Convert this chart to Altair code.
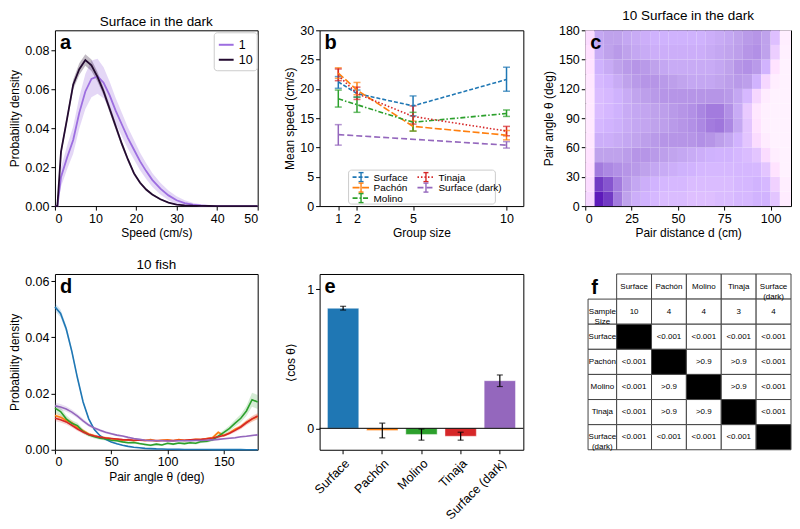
import altair as alt
import pandas as pd

FONT = "Liberation Sans"
POPS = ["Surface", "Pachón", "Molino", "Tinaja", "Surface (dark)"]
TAB = ["#1f77b4", "#ff7f0e", "#2ca02c", "#d62728", "#9467bd"]

# ---------------- panel a : speed distributions (Surface in the dark)
a_speed = [0.0, 0.6, 1.5, 3.0, 4.5, 6.0, 7.5, 9.0, 10.5, 12.0, 13.5, 15.0, 16.5, 18.0,
           19.5, 21.0, 22.5, 24.0, 26.0, 28.0, 30.0, 32.0, 34.0, 36.0, 38.0, 40.0, 45.0, 50.0]
a_pdf_10 = [0, 0, 0.028, 0.045, 0.0625, 0.0705, 0.0752, 0.0725, 0.0665, 0.059, 0.050, 0.041,
            0.032, 0.024, 0.0168, 0.012, 0.0085, 0.006, 0.0035, 0.0018, 0.0008, 0.0004,
            0.0002, 0.0001, 0.00005, 0, 0, 0]
a_err_10 = [0, 0, 0.002, 0.002, 0.0025, 0.003, 0.003, 0.003, 0.0025, 0.002, 0.002, 0.0018,
            0.0015, 0.0012, 0.001, 0.0008, 0.0007, 0.0005, 0.0004, 0.0003, 0.0002, 0.0001,
            0.0001, 0, 0, 0, 0, 0]
a_pdf_1 = [0, 0, 0.015, 0.025, 0.034, 0.048, 0.059, 0.0655, 0.0668, 0.0635, 0.057, 0.049,
           0.042, 0.035, 0.029, 0.023, 0.018, 0.0135, 0.009, 0.0055, 0.003, 0.0015, 0.0007,
           0.0003, 0.0001, 0, 0, 0]
a_err_1 = [0, 0, 0.005, 0.006, 0.007, 0.008, 0.009, 0.0095, 0.009, 0.008, 0.007, 0.0065,
           0.006, 0.0055, 0.005, 0.0045, 0.004, 0.0035, 0.003, 0.0025, 0.002, 0.0015, 0.001,
           0.0006, 0.0003, 0, 0, 0]
a_groups = ["1", "10"]
a_colors = ["#9d6ee0", "#230a30"]

# ---------------- panel b : mean speed vs group size
b_group_size = [1, 2, 5, 10]
b_mean = {"Surface": [21.2, 19.2, 17.1, 21.6], "Pachón": [22.7, 19.8, 13.6, 12.1],
          "Molino": [18.3, 17.3, 14.3, 15.8], "Tinaja": [22.3, 19.2, 15.3, 12.8],
          "Surface (dark)": [12.2, None, None, 10.4]}
b_lo = {"Surface": [20.1, 18.6, 15.4, 19.6], "Pachón": [21.8, 19.0, 12.8, 11.3],
        "Molino": [16.9, 16.0, 12.8, 15.3], "Tinaja": [21.4, 18.2, 14.0, 12.0],
        "Surface (dark)": [10.4, None, None, 9.9]}
b_hi = {"Surface": [22.1, 19.8, 18.8, 23.7], "Pachón": [23.6, 21.1, 14.5, 12.9],
        "Molino": [19.8, 18.6, 16.0, 16.4], "Tinaja": [23.4, 20.3, 17.1, 13.6],
        "Surface (dark)": [13.9, None, None, 11.0]}

# ---------------- panel c : pair distance / pair angle density (relative)
c_dist_edges = [0, 5, 10, 15, 20, 25, 30, 35, 40, 45, 50, 55, 60, 65, 70, 75, 80, 85, 90,
                95, 100, 105, 111]
c_angle_edges = [0, 15, 30, 45, 60, 75, 90, 105, 120, 135, 150, 165, 180]
c_density = [
    [0.15, 0.95, 0.85, 0.6, 0.45, 0.38, 0.35, 0.32, 0.3, 0.3, 0.3, 0.28, 0.28, 0.28, 0.3, 0.3, 0.32, 0.32, 0.35, 0.35, 0.25, 0.03],
    [0.12, 0.85, 0.75, 0.6, 0.48, 0.42, 0.38, 0.35, 0.33, 0.32, 0.32, 0.3, 0.3, 0.3, 0.3, 0.3, 0.32, 0.33, 0.35, 0.32, 0.18, 0.02],
    [0.1, 0.6, 0.55, 0.52, 0.5, 0.48, 0.45, 0.42, 0.4, 0.38, 0.36, 0.35, 0.33, 0.32, 0.32, 0.32, 0.33, 0.33, 0.32, 0.25, 0.08, 0.0],
    [0.08, 0.45, 0.45, 0.45, 0.47, 0.5, 0.5, 0.48, 0.46, 0.44, 0.42, 0.4, 0.38, 0.36, 0.35, 0.35, 0.33, 0.3, 0.25, 0.12, 0.02, 0.0],
    [0.06, 0.38, 0.38, 0.4, 0.42, 0.44, 0.46, 0.48, 0.5, 0.5, 0.5, 0.5, 0.52, 0.5, 0.46, 0.42, 0.35, 0.25, 0.12, 0.03, 0.0, 0.0],
    [0.05, 0.33, 0.35, 0.37, 0.4, 0.42, 0.43, 0.45, 0.46, 0.48, 0.5, 0.52, 0.55, 0.6, 0.62, 0.55, 0.42, 0.25, 0.08, 0.01, 0.0, 0.0],
    [0.05, 0.3, 0.33, 0.36, 0.4, 0.42, 0.43, 0.45, 0.46, 0.48, 0.5, 0.52, 0.56, 0.6, 0.6, 0.52, 0.4, 0.22, 0.06, 0.01, 0.0, 0.0],
    [0.05, 0.3, 0.32, 0.36, 0.4, 0.44, 0.46, 0.48, 0.5, 0.5, 0.5, 0.5, 0.5, 0.5, 0.5, 0.48, 0.42, 0.32, 0.15, 0.03, 0.0, 0.0],
    [0.06, 0.32, 0.35, 0.4, 0.45, 0.48, 0.5, 0.5, 0.48, 0.46, 0.44, 0.42, 0.42, 0.42, 0.44, 0.46, 0.48, 0.46, 0.35, 0.15, 0.02, 0.0],
    [0.08, 0.36, 0.4, 0.45, 0.48, 0.5, 0.48, 0.45, 0.42, 0.4, 0.4, 0.4, 0.4, 0.4, 0.42, 0.45, 0.5, 0.52, 0.48, 0.35, 0.08, 0.0],
    [0.1, 0.4, 0.45, 0.48, 0.45, 0.42, 0.4, 0.38, 0.38, 0.38, 0.38, 0.38, 0.38, 0.4, 0.42, 0.44, 0.46, 0.5, 0.52, 0.45, 0.2, 0.01],
    [0.12, 0.42, 0.45, 0.45, 0.42, 0.4, 0.38, 0.36, 0.36, 0.36, 0.36, 0.36, 0.36, 0.38, 0.4, 0.42, 0.45, 0.48, 0.5, 0.45, 0.28, 0.02],
]

# ---------------- panel d : pair angle distributions, 10 fish (values x 1e-3)
d_angle = [0, 5, 10, 15, 20, 25, 30, 35, 40, 45, 50, 55, 60, 65, 70, 75, 80, 85, 90, 95, 100,
           105, 110, 115, 120, 125, 130, 135, 140, 145, 150, 155, 160, 165, 170, 175, 180]
d_pdf = {
    "Surface": [50.8, 48.5, 43.0, 35.0, 25.5, 17.0, 11.0, 7.2, 5.0, 3.7, 2.8, 2.1, 1.6, 1.2, 0.9, 0.7, 0.5, 0.4, 0.3, 0.25, 0.2, 0.17, 0.14, 0.12, 0.1, 0.09, 0.08, 0.07, 0.06, 0.05, 0.05, 0.04, 0.04, 0.04, 0.03, 0.03, 0.03],
    "Pachón": [12.2, 11.6, 10.4, 9.6, 7.9, 6.8, 5.6, 5.0, 4.4, 4.3, 3.9, 3.7, 3.4, 3.6, 3.2, 3.5, 3.3, 3.6, 3.1, 3.4, 3.5, 3.2, 3.6, 3.3, 3.5, 3.7, 3.6, 4.0, 4.3, 6.2, 5.0, 6.0, 7.3, 8.2, 9.8, 10.9, 11.8],
    "Molino": [14.8, 13.6, 11.0, 9.4, 8.6, 6.5, 5.3, 4.6, 4.1, 3.8, 3.4, 3.2, 2.8, 2.5, 2.6, 2.2, 1.9, 1.6, 2.0, 1.7, 2.3, 2.0, 2.4, 2.2, 2.5, 2.3, 2.9, 3.0, 3.6, 4.8, 6.2, 7.6, 9.5, 11.2, 13.8, 17.8, 17.0],
    "Tinaja": [11.2, 10.7, 9.9, 8.7, 7.4, 6.3, 5.4, 4.9, 4.5, 4.2, 4.0, 3.8, 3.6, 3.5, 3.4, 3.4, 3.3, 3.3, 3.3, 3.3, 3.3, 3.3, 3.4, 3.4, 3.5, 3.6, 3.7, 3.9, 4.2, 4.6, 5.1, 5.9, 6.9, 8.1, 9.6, 11.0, 12.0],
    "Surface (dark)": [15.6, 15.2, 14.5, 13.4, 12.0, 10.3, 8.8, 7.7, 6.9, 6.2, 5.7, 5.2, 4.9, 4.4, 4.0, 3.7, 3.4, 3.3, 3.2, 3.2, 3.1, 3.1, 3.2, 3.2, 3.2, 3.3, 3.3, 3.4, 3.5, 3.7, 3.9, 4.1, 4.3, 4.6, 4.8, 5.1, 5.3],
}
d_sem = {
    "Surface": [1.5, 1.4, 1.2, 1.0, 0.8, 0.6, 0.5, 0.4, 0.3, 0.3, 0.2, 0.2, 0.2, 0.1, 0.1, 0.1, 0.1, 0.1, 0.1, 0.1, 0.1, 0.1, 0.1, 0.1, 0.1, 0.1, 0.1, 0.1, 0.1, 0.1, 0.1, 0.1, 0.1, 0.1, 0.1, 0.1, 0.1],
    "Pachón": [0.9, 0.9, 0.8, 0.8, 0.7, 0.6, 0.5, 0.5, 0.4, 0.4, 0.4, 0.4, 0.3, 0.3, 0.3, 0.3, 0.3, 0.3, 0.3, 0.3, 0.3, 0.3, 0.3, 0.3, 0.3, 0.3, 0.3, 0.4, 0.4, 0.5, 0.5, 0.6, 0.6, 0.7, 0.8, 0.9, 1.0],
    "Molino": [1.6, 1.5, 1.3, 1.1, 1.0, 0.8, 0.7, 0.6, 0.5, 0.5, 0.4, 0.4, 0.4, 0.4, 0.4, 0.4, 0.4, 0.4, 0.4, 0.4, 0.4, 0.4, 0.4, 0.4, 0.4, 0.4, 0.5, 0.5, 0.6, 0.7, 0.8, 1.0, 1.2, 1.4, 1.8, 2.5, 2.5],
    "Tinaja": [1.0, 1.0, 0.9, 0.8, 0.7, 0.6, 0.5, 0.4, 0.4, 0.3, 0.3, 0.3, 0.3, 0.3, 0.3, 0.3, 0.3, 0.3, 0.3, 0.3, 0.3, 0.3, 0.3, 0.3, 0.3, 0.3, 0.3, 0.4, 0.4, 0.5, 0.5, 0.6, 0.7, 0.8, 0.9, 1.0, 1.1],
    "Surface (dark)": [1.2, 1.1, 1.0, 0.9, 0.8, 0.7, 0.6, 0.5, 0.5, 0.4, 0.4, 0.3, 0.3, 0.3, 0.3, 0.3, 0.3, 0.3, 0.3, 0.3, 0.3, 0.3, 0.3, 0.3, 0.3, 0.3, 0.3, 0.3, 0.3, 0.3, 0.3, 0.3, 0.3, 0.3, 0.3, 0.3, 0.4],
}

# ---------------- panel e : <cos theta>
e_mean = [0.862, -0.016, -0.044, -0.057, 0.342]
e_lo = [0.849, -0.069, -0.085, -0.085, 0.300]
e_hi = [0.876, 0.037, -0.005, -0.028, 0.383]

# ---------------- panel f : table of p-values
f_cols = ["Surface", "Pachón", "Molino", "Tinaja", "Surface\n(dark)"]
f_rows = ["Sample\nSize", "Surface", "Pachón", "Molino", "Tinaja", "Surface\n(dark)"]
f_sample_size = ["10", "4", "4", "3", "4"]
f_p = [
    ["", "<0.001", "<0.001", "<0.001", "<0.001"],
    ["<0.001", "", ">0.9", ">0.9", "<0.001"],
    ["<0.001", ">0.9", "", ">0.9", "<0.001"],
    ["<0.001", ">0.9", ">0.9", "", "<0.001"],
    ["<0.001", "<0.001", "<0.001", "<0.001", ""],
]

# ====================================================================
W1, W2, W3 = 203, 204, 206
H = 176
LBL = 12.5
GAP = 62
ONE = alt.Data(values=[{"k": 0}])


def letter(ch, dx=5, dy=3):
    return alt.Chart(alt.Data(values=[{"t": ch}])).mark_text(
        align="left", baseline="top", fontSize=20, fontWeight="bold", font=FONT, color="black"
    ).encode(x=alt.value(dx), y=alt.value(dy), text="t:N")


def seg(x1, y1, x2, y2, color, width=1.5, dash=None):
    kw = dict(color=color, strokeWidth=width)
    if dash is not None:
        kw["strokeDash"] = dash
    return alt.Chart(ONE).mark_rule(**kw).encode(
        x=alt.value(x1), x2=alt.value(x2), y=alt.value(y1), y2=alt.value(y2))


# ---- a
rows = []
for g, ys, es in [("1", a_pdf_1, a_err_1), ("10", a_pdf_10, a_err_10)]:
    for x, y, e in zip(a_speed, ys, es):
        rows.append({"speed": x, "pdf": y, "lo": max(0.0, y - e), "hi": y + e, "group": g})
dfa = pd.DataFrame(rows)
xa = alt.X("speed:Q", scale=alt.Scale(domain=[0, 50], nice=False),
           axis=alt.Axis(values=[0, 10, 20, 30, 40, 50], title="Speed (cm/s)"))
ya_scale = alt.Scale(domain=[0, 0.0905], nice=False)
ya_axis = alt.Axis(values=[0, 0.02, 0.04, 0.06, 0.08], format=".2f", title="Probability density")
ca = alt.Scale(domain=a_groups, range=a_colors)
leg_a = alt.Legend(title=None, orient="none", legendX=W1 - 44, legendY=2, symbolType="stroke",
                   symbolSize=220, symbolStrokeWidth=2, symbolOpacity=1, labelFontSize=12.5,
                   labelFont=FONT, strokeColor="#cccccc", fillColor="white", padding=4,
                   cornerRadius=3, rowPadding=0)
band_a = alt.Chart(dfa).mark_area(opacity=0.28).encode(
    x=xa, y=alt.Y("lo:Q", scale=ya_scale, axis=ya_axis), y2="hi:Q",
    color=alt.Color("group:N", scale=ca, legend=leg_a))
line_a = alt.Chart(dfa).mark_line(strokeWidth=1.8).encode(
    x=xa, y=alt.Y("pdf:Q", scale=ya_scale, axis=ya_axis),
    color=alt.Color("group:N", scale=ca, legend=leg_a))
panel_a = alt.layer(band_a, line_a, letter("a")).properties(
    width=W1, height=H, title="Surface in the dark")

# ---- b
rows = []
for s in POPS:
    for g, m, lo, hi in zip(b_group_size, b_mean[s], b_lo[s], b_hi[s]):
        if m is None:
            continue
        rows.append({"size": g, "mean": m, "lo": lo, "hi": hi, "pop": s})
dfb = pd.DataFrame(rows)
b_dash = [[4, 2], [7, 2.5], [5, 2, 1.5, 2], [1.5, 2], [6, 3]]
cb = alt.Scale(domain=POPS, range=TAB)
xb = alt.X("size:Q", scale=alt.Scale(domain=[0, 10.9], nice=False),
           axis=alt.Axis(values=[1, 2, 5, 10], title="Group size"))
yb_scale = alt.Scale(domain=[0, 30], nice=False)
yb_axis = alt.Axis(values=[0, 5, 10, 15, 20, 25, 30], title="Mean speed (cm/s)")
color_b = alt.Color("pop:N", scale=cb, legend=None)
line_b = alt.Chart(dfb).mark_line(strokeWidth=1.6).encode(
    x=xb, y=alt.Y("mean:Q", scale=yb_scale, axis=yb_axis), color=color_b,
    strokeDash=alt.StrokeDash("pop:N", scale=alt.Scale(domain=POPS, range=b_dash), legend=None))
rule_b = alt.Chart(dfb).mark_rule(strokeWidth=1.5).encode(
    x=xb, y=alt.Y("lo:Q", scale=yb_scale, axis=yb_axis), y2="hi:Q", color=color_b)
cap_lo = alt.Chart(dfb).mark_tick(orient="horizontal", size=7, thickness=1.5).encode(
    x=xb, y=alt.Y("lo:Q", scale=yb_scale, axis=yb_axis), color=color_b)
cap_hi = alt.Chart(dfb).mark_tick(orient="horizontal", size=7, thickness=1.5).encode(
    x=xb, y=alt.Y("hi:Q", scale=yb_scale, axis=yb_axis), color=color_b)

# legend of panel b (drawn as marks, two columns like the reference)
LX0, LY1 = 29, H - 2
LX1, LY0 = 176, H - 36
leg_layers = [alt.Chart(ONE).mark_rect(fill="white", fillOpacity=0.85, stroke="#cccccc",
                                       strokeWidth=1, cornerRadius=3).encode(
    x=alt.value(LX0), x2=alt.value(LX1), y=alt.value(LY0), y2=alt.value(LY1))]
for i, s in enumerate(POPS):
    col, row = divmod(i, 3)
    sx = LX0 + 4 + col * 65
    sy = LY0 + 7 + row * 10.5
    colr = TAB[i]
    leg_layers.append(seg(sx, sy, sx + 17, sy, colr, 1.6, b_dash[i]))
    leg_layers.append(seg(sx + 8.5, sy - 4.5, sx + 8.5, sy + 4.5, colr, 1.4))
    leg_layers.append(seg(sx + 6, sy - 4.5, sx + 11, sy - 4.5, colr, 1.4))
    leg_layers.append(seg(sx + 6, sy + 4.5, sx + 11, sy + 4.5, colr, 1.4))
    leg_layers.append(alt.Chart(alt.Data(values=[{"t": s}])).mark_text(
        align="left", baseline="middle", fontSize=10, font=FONT, color="black").encode(
        x=alt.value(sx + 21), y=alt.value(sy + 0.5), text="t:N"))
panel_b = alt.layer(rule_b, cap_lo, cap_hi, line_b, *leg_layers, letter("b")).properties(
    width=W2, height=H)

# ---- c
rows = []
for i, row in enumerate(c_density):
    for j, v in enumerate(row):
        rows.append({"d0": c_dist_edges[j], "d1": c_dist_edges[j + 1],
                     "t0": c_angle_edges[i], "t1": c_angle_edges[i + 1], "v": v})
dfc = pd.DataFrame(rows)
heat = alt.Chart(dfc).mark_rect(strokeWidth=0).encode(
    x=alt.X("d0:Q", scale=alt.Scale(domain=[0, 111], nice=False),
            axis=alt.Axis(values=[0, 25, 50, 75, 100], title="Pair distance d (cm)")),
    x2="d1:Q",
    y=alt.Y("t0:Q", scale=alt.Scale(domain=[0, 180], nice=False),
            axis=alt.Axis(values=[0, 30, 60, 90, 120, 150, 180], title="Pair angle θ (deg)")),
    y2="t1:Q",
    color=alt.Color("v:Q", scale=alt.Scale(domain=[0, 0.45, 1],
                                           range=["#ffffff", "#bfa2ec", "#5200b4"]),
                    legend=None))
panel_c = alt.layer(heat, letter("c")).properties(width=W3, height=H,
                                                  title="10 Surface in the dark")

# ---- d
rows = []
for s in POPS:
    for t, y, e in zip(d_angle, d_pdf[s], d_sem[s]):
        rows.append({"theta": t, "pdf": y / 1000.0, "lo": max(0.0, (y - e) / 1000.0),
                     "hi": (y + e) / 1000.0, "pop": s})
dfd = pd.DataFrame(rows)
cd = alt.Scale(domain=POPS, range=TAB)
xd = alt.X("theta:Q", scale=alt.Scale(domain=[0, 180], nice=False),
           axis=alt.Axis(values=[0, 50, 100, 150], title="Pair angle θ (deg)"))
yd_scale = alt.Scale(domain=[0, 0.0625], nice=False)
yd_axis = alt.Axis(values=[0, 0.02, 0.04, 0.06], format=".2f", title="Probability density")
band_d = alt.Chart(dfd).mark_area(opacity=0.2).encode(
    x=xd, y=alt.Y("lo:Q", scale=yd_scale, axis=yd_axis), y2="hi:Q",
    color=alt.Color("pop:N", scale=cd, legend=None), detail="pop:N")
line_d = alt.Chart(dfd).mark_line(strokeWidth=1.6).encode(
    x=xd, y=alt.Y("pdf:Q", scale=yd_scale, axis=yd_axis),
    color=alt.Color("pop:N", scale=cd, legend=None), detail="pop:N")
panel_d = alt.layer(band_d, line_d, letter("d")).properties(width=W1, height=H, title="10 fish")

# ---- e
dfe = pd.DataFrame({"pop": POPS, "val": e_mean, "lo": e_lo, "hi": e_hi})
xe = alt.X("pop:N", sort=POPS, scale=alt.Scale(paddingInner=0.2, paddingOuter=0.2),
           axis=alt.Axis(title=None, labelAngle=315, labelAlign="right",
                         labelBaseline="top", labelPadding=3))
ye_scale = alt.Scale(domain=[-0.154, 1.108], nice=False)
ye_axis = alt.Axis(values=[0, 1], format="d", title="⟨cos θ⟩", titlePadding=9)
bars_e = alt.Chart(dfe).mark_bar(stroke="white", strokeOpacity=0.45, strokeWidth=1).encode(
    x=xe, y=alt.Y("val:Q", scale=ye_scale, axis=ye_axis), y2=alt.datum(0),
    color=alt.Color("pop:N", scale=cd, legend=None))
zero_e = alt.Chart(alt.Data(values=[{"z": 0}])).mark_rule(color="black", strokeWidth=1).encode(
    y=alt.Y("z:Q", scale=ye_scale, axis=ye_axis))
err_e = alt.Chart(dfe).mark_rule(color="black", strokeWidth=1.2).encode(
    x=xe, y=alt.Y("lo:Q", scale=ye_scale, axis=ye_axis), y2="hi:Q")
caplo_e = alt.Chart(dfe).mark_tick(orient="horizontal", size=6, thickness=1.2, color="black").encode(
    x=xe, y=alt.Y("lo:Q", scale=ye_scale, axis=ye_axis))
caphi_e = alt.Chart(dfe).mark_tick(orient="horizontal", size=6, thickness=1.2, color="black").encode(
    x=xe, y=alt.Y("hi:Q", scale=ye_scale, axis=ye_axis))
panel_e = alt.layer(bars_e, zero_e, err_e, caplo_e, caphi_e, letter("e")).properties(
    width=W2, height=H)

# ---- f
col_edges = [0.0, 0.82, 1.82, 2.82, 3.82, 4.82, 5.82]
cells = []
for j, name in enumerate(f_cols):
    cells.append({"c0": col_edges[j + 1], "c1": col_edges[j + 2], "r0": 0, "r1": 1,
                  "text": name, "fill": "white"})
for i, name in enumerate(f_rows):
    cells.append({"c0": col_edges[0], "c1": col_edges[1], "r0": i + 1, "r1": i + 2,
                  "text": name, "fill": "white"})
for j, v in enumerate(f_sample_size):
    cells.append({"c0": col_edges[j + 1], "c1": col_edges[j + 2], "r0": 1, "r1": 2,
                  "text": v, "fill": "white"})
for i, prow in enumerate(f_p):
    for j, v in enumerate(prow):
        cells.append({"c0": col_edges[j + 1], "c1": col_edges[j + 2], "r0": i + 2, "r1": i + 3,
                      "text": v, "fill": "black" if i == j else "white"})
dff = pd.DataFrame(cells)
dff["cm"] = (dff["c0"] + dff["c1"]) / 2
dff["rm"] = (dff["r0"] + dff["r1"]) / 2
fx = alt.Scale(domain=[-0.08, 5.82], nice=False)
fy = alt.Scale(domain=[0, 7], nice=False, reverse=True)
rect_f = alt.Chart(dff).mark_rect(stroke="#444444", strokeWidth=1).encode(
    x=alt.X("c0:Q", scale=fx, axis=None), x2="c1:Q",
    y=alt.Y("r0:Q", scale=fy, axis=None), y2="r1:Q",
    fill=alt.Fill("fill:N", scale=None))
text_f = alt.Chart(dff).mark_text(fontSize=8, font=FONT, color="black", lineBreak="\n").encode(
    x=alt.X("cm:Q", scale=fx, axis=None), y=alt.Y("rm:Q", scale=fy, axis=None), text="text:N")
panel_f = alt.layer(rect_f, text_f, letter("f", dx=6, dy=4)).properties(
    width=W3, height=H, view=alt.ViewBackground(stroke="transparent"))

chart = alt.concat(panel_a, panel_b, panel_c, panel_d, panel_e, panel_f, columns=3,
                   spacing={"row": 68, "column": GAP}, bounds="flush").properties(
    padding={"left": 0, "right": 0, "top": 0, "bottom": 0})
chart = chart.configure(font=FONT).configure_view(stroke="black", strokeWidth=1).configure_axis(
    domain=False, grid=False, ticks=True, tickColor="black", tickSize=4, tickWidth=1,
    labelColor="black", labelFont=FONT, labelFontSize=LBL, titleFont=FONT, titleFontSize=12,
    titleFontWeight="normal", titleColor="black", labelPadding=2, titlePadding=3
).configure_title(font=FONT, fontSize=13.5, fontWeight="normal", color="black", offset=2,
                  anchor="middle")

chart.save("out.html", embed_options={"renderer": "svg", "actions": False})
